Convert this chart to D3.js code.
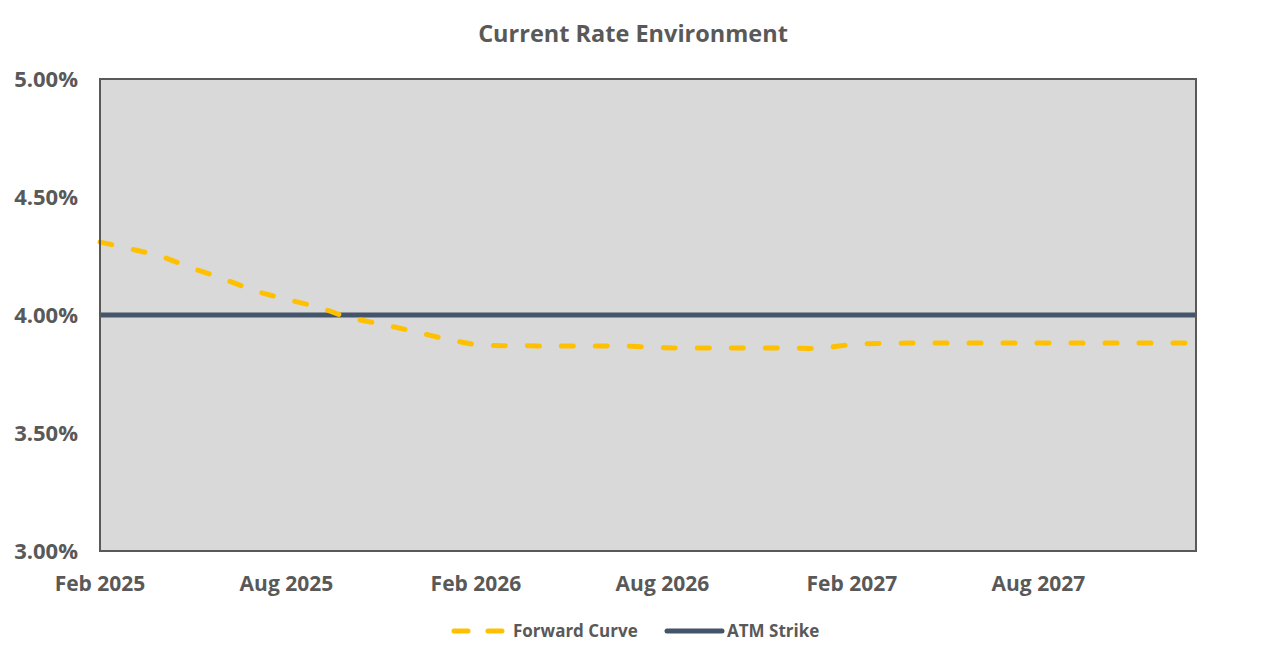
<!DOCTYPE html>
<html>
<head>
<meta charset="utf-8">
<script src="https://cdn.jsdelivr.net/npm/d3@7.9.0/dist/d3.min.js"></script>
<style>
  body { margin: 0; background: #fff; }
  svg text { font-family: "Open Sans", "Roboto", sans-serif; font-weight: bold; fill: #595959; }
</style>
</head>
<body>
<svg id="chart" width="1265" height="662"></svg>
<script>
// monthly forward curve, Feb 2025 .. Jan 2028
const months = d3.timeMonths(new Date(2025, 1, 1), new Date(2028, 0, 2));
const forwardCurve = [
  4.309, 4.282, 4.250, 4.199, 4.153, 4.102, 4.066, 4.034, 3.987, 3.962, 3.932, 3.900,
  3.873, 3.870, 3.869, 3.869, 3.869, 3.868, 3.861, 3.860, 3.860, 3.860, 3.860, 3.858,
  3.876, 3.880, 3.881, 3.881, 3.881, 3.881, 3.881, 3.881, 3.881, 3.881, 3.881, 3.881
];
const atmStrike = 4.00;
const yTicks = [3.0, 3.5, 4.0, 4.5, 5.0];
const xTicks = d3.timeMonths(new Date(2025, 1, 1), new Date(2027, 8, 1), 6);

const svg = d3.select("#chart");
const plot = { left: 100, right: 1196, top: 79, bottom: 551 };

const x = d3.scaleTime()
  .domain([months[0], months[months.length - 1]])
  .range([plot.left, plot.right]);
const y = d3.scaleLinear().domain([3, 5]).range([plot.bottom, plot.top]);

// title
svg.append("text")
  .attr("x", 633).attr("y", 42)
  .attr("text-anchor", "middle")
  .style("font-size", "23.5px")
  .text("Current Rate Environment");

// plot area
svg.append("rect")
  .attr("x", plot.left).attr("y", plot.top)
  .attr("width", plot.right - plot.left).attr("height", plot.bottom - plot.top)
  .attr("fill", "#d9d9d9");

// y labels
svg.selectAll(".ylab")
  .data(yTicks)
  .enter()
  .append("text")
  .attr("class", "ylab")
  .attr("x", 78)
  .attr("y", (d) => y(d) + 8)
  .attr("text-anchor", "end")
  .style("font-size", "22px")
  .text((d) => d3.format(".2f")(d) + "%");

// x labels
svg.selectAll(".xlab")
  .data(xTicks)
  .enter()
  .append("text")
  .attr("class", "xlab")
  .attr("x", (d) => x(d))
  .attr("y", 591)
  .attr("text-anchor", "middle")
  .style("font-size", "21px")
  .text((d) => d3.timeFormat("%b %Y")(d));

// ATM strike
svg.append("line")
  .attr("x1", plot.left).attr("x2", plot.right)
  .attr("y1", y(atmStrike)).attr("y2", y(atmStrike))
  .attr("stroke", "#44546a")
  .attr("stroke-width", 5);

// forward curve
const line = d3.line()
  .x((d, i) => x(months[i]))
  .y((d) => y(d));

svg.append("path")
  .datum(forwardCurve)
  .attr("d", line)
  .attr("fill", "none")
  .attr("stroke", "#ffc000")
  .attr("stroke-width", 5)
  .attr("stroke-linecap", "round")
  .attr("stroke-linejoin", "round")
  .attr("stroke-dasharray", "12,22");

// border
svg.append("rect")
  .attr("x", plot.left).attr("y", plot.top)
  .attr("width", plot.right - plot.left).attr("height", plot.bottom - plot.top)
  .attr("fill", "none")
  .attr("stroke", "#595959")
  .attr("stroke-width", 2);

// legend
const legend = svg.append("g");
legend.append("line")
  .attr("x1", 454).attr("x2", 503).attr("y1", 631).attr("y2", 631)
  .attr("stroke", "#ffc000").attr("stroke-width", 5)
  .attr("stroke-linecap", "round").attr("stroke-dasharray", "14,20");
legend.append("text")
  .attr("x", 513).attr("y", 637)
  .style("font-size", "17px")
  .text("Forward Curve");
legend.append("line")
  .attr("x1", 667).attr("x2", 722).attr("y1", 631).attr("y2", 631)
  .attr("stroke", "#44546a").attr("stroke-width", 5)
  .attr("stroke-linecap", "round");
legend.append("text")
  .attr("x", 727).attr("y", 637)
  .style("font-size", "17px")
  .text("ATM Strike");
</script>
</body>
</html>
